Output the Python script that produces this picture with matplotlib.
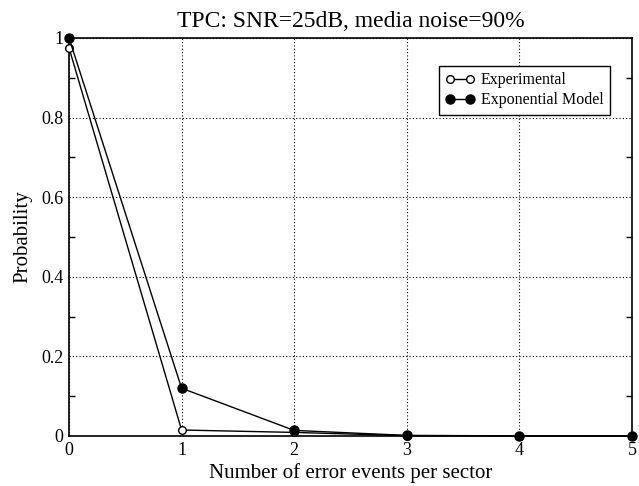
import matplotlib.pyplot as plt
import numpy as np
from matplotlib.ticker import MultipleLocator

plt.rcParams['font.family'] = ['Liberation Serif', 'DejaVu Serif']

events = [0, 1, 2, 3, 4, 5]
experimental = [0.975, 0.015, 0.009, 0.0008, 0.0001, 0.00001]
exponential = [1.0, 0.12, 0.014, 0.0015, 0.0002, 0.00002]

fig = plt.figure(figsize=(6.39, 4.86), dpi=100)
ax = fig.add_axes([0.108, 0.1029, 0.881, 0.819])

ax.plot(events, experimental, 'k-', marker='o', mfc='white', mec='black',
        ms=5.5, lw=1, label='Experimental', clip_on=False, zorder=4)
ax.plot(events, exponential, 'k-', marker='o', mfc='black', mec='black',
        ms=6.5, lw=1, label='Exponential Model', clip_on=False, zorder=5)

ax.set_xlim(0, 5)
ax.set_ylim(0, 1)
ax.set_xticks(events)
ax.set_yticks([0, 0.2, 0.4, 0.6, 0.8, 1])
ax.set_yticklabels(['0', '0.2', '0.4', '0.6', '0.8', '1'])
ax.yaxis.set_minor_locator(MultipleLocator(0.1))
ax.tick_params(which='both', direction='in', right=True, top=False, labelsize=13)
ax.tick_params(which='major', length=0)
ax.tick_params(axis='x', which='major', pad=4.5)
ax.tick_params(axis='y', which='major', pad=4)
ax.tick_params(which='minor', length=4.5, width=1)
ax.grid(True, which='major', color='black', linestyle=(0, (1, 2)), linewidth=0.8)
for s in ax.spines.values():
    s.set_linewidth(1.2)

ax.set_title('TPC: SNR=25dB, media noise=90%', fontsize=17, pad=8)
ax.set_xlabel('Number of error events per sector', fontsize=15, labelpad=3)
ax.set_ylabel('Probability', fontsize=15, labelpad=6)

leg = ax.legend(loc='upper right', bbox_to_anchor=(0.961, 0.93), fontsize=11.5,
                frameon=True, fancybox=False, edgecolor='black', framealpha=1,
                numpoints=2, handlelength=1.9, handletextpad=0.35, borderpad=0.4,
                labelspacing=0.25, borderaxespad=0)
leg.get_frame().set_linewidth(1)

fig.savefig('out.png', dpi=100)
